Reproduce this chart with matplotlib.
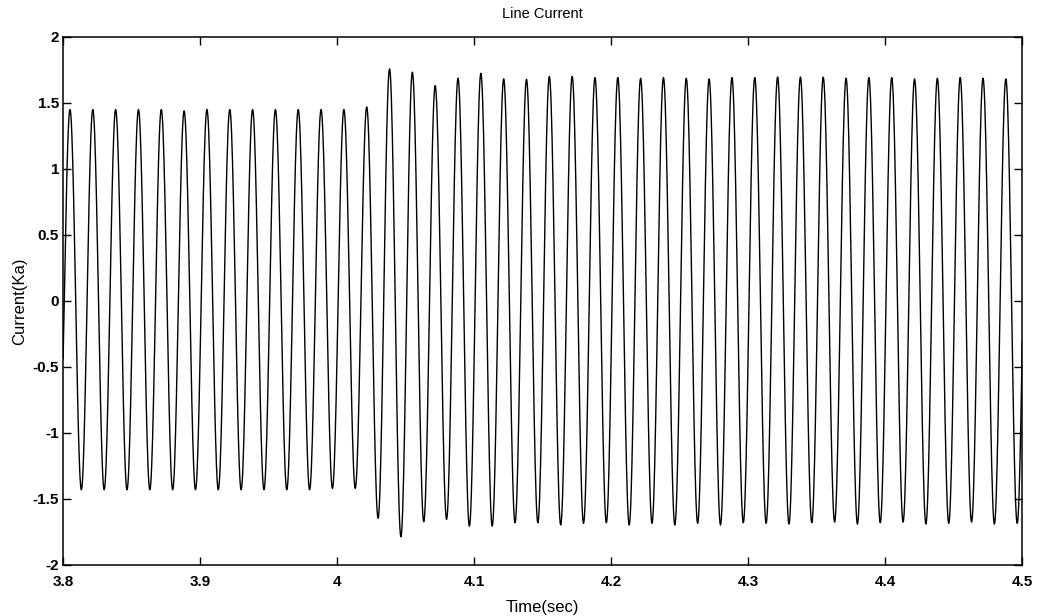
import numpy as np
import matplotlib.pyplot as plt

# line current waveform
freq = 60.0                 # Hz
first_peak_t = 3.8049       # time of first positive peak (s)
first_trough_t = 3.8132     # time of first negative peak (s)

# positive peak of each cycle (kA), cycles 0..41, plus one past the edge
peak_vals = [1.45, 1.45, 1.45, 1.45, 1.45, 1.44, 1.45, 1.45, 1.45, 1.45, 1.45, 1.45,
             1.45, 1.47, 1.758, 1.733, 1.631, 1.687, 1.725, 1.682, 1.679, 1.70,
             1.70, 1.692, 1.692, 1.687, 1.692, 1.687, 1.682, 1.692, 1.692, 1.697,
             1.697, 1.695, 1.687, 1.692, 1.692, 1.682, 1.687, 1.692, 1.687, 1.682,
             1.69]
# negative peak of each cycle (kA), one before the edge then cycles 0..41
trough_vals = [-1.43,
               -1.43, -1.43, -1.43, -1.43, -1.43, -1.43, -1.43, -1.43, -1.43, -1.43,
               -1.43, -1.42, -1.42, -1.646, -1.786, -1.672, -1.654, -1.705, -1.705,
               -1.680, -1.680, -1.697, -1.684, -1.680, -1.697, -1.684, -1.697,
               -1.684, -1.697, -1.680, -1.684, -1.690, -1.680, -1.675, -1.690,
               -1.680, -1.675, -1.690, -1.684, -1.675, -1.690, -1.684]

xticks = [3.8, 3.9, 4.0, 4.1, 4.2, 4.3, 4.4, 4.5]
xtick_labels = ['3.8', '3.9', '4', '4.1', '4.2', '4.3', '4.4', '4.5']
yticks = [-2, -1.5, -1, -0.5, 0, 0.5, 1, 1.5, 2]
ytick_labels = ['-2', '-1.5', '-1', '-0.5', '0', '0.5', '1', '1.5', '2']


def build_wave(peaks, troughs):
    # list of extremes in time order, then half-cosine between neighbours
    T = 1.0 / freq
    ext = [(first_trough_t - T, troughs[0])]
    for k in range(len(peaks)):
        ext.append((first_peak_t + k * T, peaks[k]))
        if k + 1 < len(troughs):
            ext.append((first_trough_t + k * T, troughs[k + 1]))
    ext.sort()
    ts, vs = [], []
    for (ta, va), (tb, vb) in zip(ext[:-1], ext[1:]):
        tt = np.linspace(ta, tb, 25, endpoint=False)
        ts.append(tt)
        vs.append((va + vb) / 2 + (va - vb) / 2 * np.cos(np.pi * (tt - ta) / (tb - ta)))
    return np.concatenate(ts), np.concatenate(vs)


t, i_line = build_wave(peak_vals, trough_vals)

plt.rcParams['font.family'] = ['Liberation Sans', 'DejaVu Sans']

fig = plt.figure(figsize=(10.39, 6.16), dpi=100)
ax = fig.add_axes([0.0609, 0.0828, 0.9227, 0.8572])
ax.plot(t, i_line, color='black', linewidth=1.0)

ax.set_xlim(3.8, 4.5)
ax.set_ylim(-2, 2)
ax.set_xticks(xticks)
ax.set_xticklabels(xtick_labels)
ax.set_yticks(yticks)
ax.set_yticklabels(ytick_labels)
ax.tick_params(direction='in', length=6, width=1, top=True, right=True,
               labelsize=11)
ax.tick_params(axis='x', pad=7)
ax.tick_params(axis='y', pad=3)
for lab in ax.get_xticklabels() + ax.get_yticklabels():
    lab.set_fontweight('bold')
for sp in ax.spines.values():
    sp.set_linewidth(1.1)

ax.set_title('Line Current', fontsize=10.5, pad=14)
ax.set_xlabel('Time(sec)', fontsize=12, labelpad=8)
ax.set_ylabel('Current(Ka)', fontsize=12, labelpad=4)

plt.savefig('out.png', dpi=100)
plt.close()
